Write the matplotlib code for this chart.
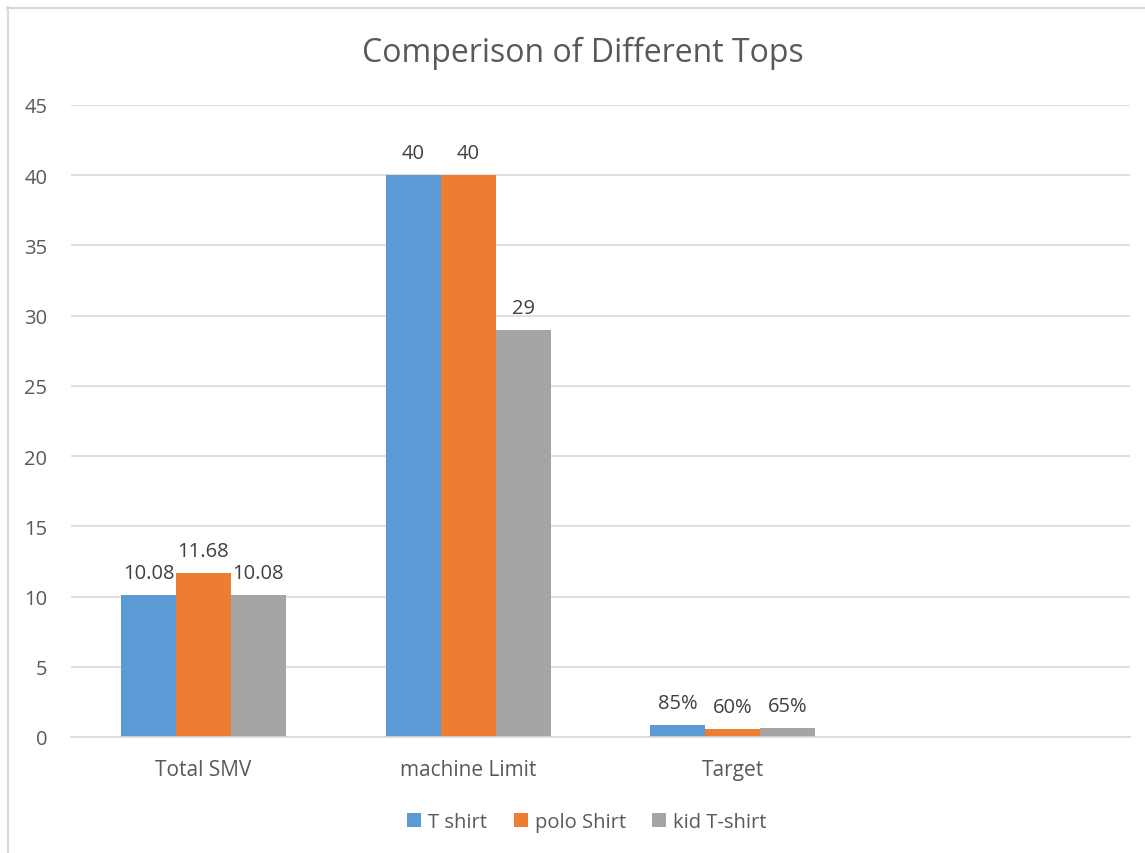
import matplotlib
matplotlib.use("Agg")
import matplotlib.pyplot as plt
import numpy as np
from matplotlib.lines import Line2D
from matplotlib.patches import Patch

categories = ["Total SMV", "machine Limit", "Target", ""]
series_names = ["T shirt", "polo Shirt", "kid T-shirt"]
t_shirt = [10.08, 40, 0.85]
polo_shirt = [11.68, 40, 0.60]
kid_t_shirt = [10.08, 29, 0.65]
percent_categories = ["Target"]
y_ticks = [0, 5, 10, 15, 20, 25, 30, 35, 40, 45]
title = "Comperison of Different Tops"

colors = ["#5B9BD5", "#ED7D31", "#A5A5A5"]
FONT = "Open Sans"
plt.rcParams["font.family"] = [FONT, "DejaVu Sans"]

W, H = 1145, 854
fig = plt.figure(figsize=(W / 100, H / 100), dpi=100)
ax = fig.add_axes([71 / W, 1 - 738 / H, (1130 - 71) / W, (738 - 106) / H])

series = [t_shirt, polo_shirt, kid_t_shirt]
n_cat = len(categories)
bw = 55 / 265
x = np.arange(len(t_shirt))
for i, (vals, name, c) in enumerate(zip(series, series_names, colors)):
    xs = x + (i - 1) * bw
    ax.bar(xs, vals, width=bw, color=c, label=name, zorder=3)
    for xi, v, cat in zip(xs, vals, categories):
        if cat in percent_categories:
            txt = f"{v * 100:.0f}%"
        else:
            txt = f"{v:g}"
        ax.annotate(txt, (xi, v), xytext=(0, 17), textcoords="offset pixels",
                    ha="center", va="baseline", fontsize=14.5, color="#404040")

ax.set_xlim(-0.5, n_cat - 0.5)
ax.set_ylim(0, 45)
ax.set_yticks(y_ticks)
ax.set_xticks(np.arange(n_cat))
ax.set_xticklabels(categories, fontsize=15)
ax.tick_params(axis="both", length=0, labelcolor="#595959")
ax.tick_params(axis="y", pad=17, labelsize=14.5)
ax.tick_params(axis="x", pad=16)
ax.grid(axis="y", color="#D9D9D9", linewidth=1.2, zorder=0)
for s in ["left", "right", "top"]:
    ax.spines[s].set_visible(False)
ax.spines["bottom"].set_color("#D9D9D9")
ax.spines["bottom"].set_linewidth(1.2)
ax.spines["bottom"].set_zorder(4)

fig.text(583 / W, 1 - 53 / H, title, ha="center", va="center", fontsize=23, color="#595959")

handles = [Patch(facecolor=c, edgecolor="none") for c in colors]
fig.legend(handles, series_names, loc="center", bbox_to_anchor=(587 / W, 1 - 823 / H),
           ncol=3, frameon=False, fontsize=14.5, labelcolor="#595959",
           handlelength=0.7, handleheight=0.7, handletextpad=0.35, columnspacing=1.3)

# chart border (left and top visible)
fig.add_artist(Line2D([7.5 / W, 7.5 / W], [1 - 8 / H, 0], transform=fig.transFigure,
                      color="#D9D9D9", linewidth=1.5))
fig.add_artist(Line2D([7 / W, 1], [1 - 8.5 / H, 1 - 8.5 / H], transform=fig.transFigure,
                      color="#D9D9D9", linewidth=1.5))

fig.savefig("out.png", dpi=100, facecolor="white")
